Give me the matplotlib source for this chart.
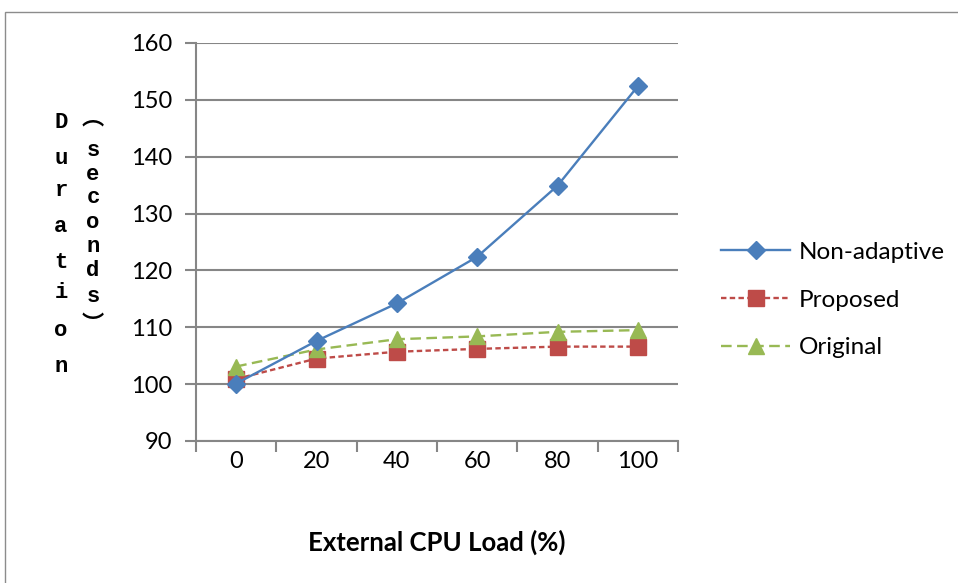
import matplotlib
matplotlib.use("Agg")
import matplotlib.pyplot as plt
from matplotlib.patches import Rectangle

categories = ["0", "20", "40", "60", "80", "100"]
non_adaptive = [100.1, 107.6, 114.2, 122.4, 134.9, 152.4]
proposed = [100.9, 104.5, 105.7, 106.2, 106.6, 106.6]
original = [103.1, 106.1, 107.9, 108.4, 109.2, 109.5]
y_ticks = [90, 100, 110, 120, 130, 140, 150, 160]

W, H = 958, 583
fig = plt.figure(figsize=(W / 100, H / 100), dpi=100)
fig.patch.set_facecolor("white")
font = "Lato"
grid_c = "#868686"

# outer chart border
fig.patches.append(Rectangle((5 / W, -0.1), 1.2, 1 - 12 / H + 0.1, transform=fig.transFigure,
                             fill=False, edgecolor="#8c8c8c", linewidth=1.0))

ax = fig.add_axes([196 / W, 142 / H, 482 / W, 398 / H])
x = list(range(len(categories)))
ax.plot(x, non_adaptive, color="#4A7EBB", lw=1.7, marker="D", ms=9.5,
        markeredgecolor="#4A7EBB", label="Non-adaptive", zorder=4)
ax.plot(x, proposed, color="#BE4B48", lw=1.7, ls=(0, (2.3, 1.4)), marker="s", ms=11,
        markeredgecolor="#BE4B48", label="Proposed", zorder=3)
ax.plot(x, original, color="#98B954", lw=1.7, ls=(0, (4.5, 2.3)), marker="^", ms=12,
        markeredgecolor="#98B954", label="Original", zorder=3)

ax.set_xlim(-0.5, len(categories) - 0.5)
ax.set_ylim(90, 160)
ax.set_yticks(y_ticks)
ax.set_yticklabels([str(v) for v in y_ticks], fontfamily=font, fontsize=17)
ax.set_xticks([i - 0.5 for i in range(len(categories) + 1)], minor=False)
ax.set_xticklabels([])
ax.set_xticks(x, minor=True)
ax.set_xticklabels(categories, minor=True, fontfamily=font, fontsize=17)
ax.tick_params(axis="x", which="minor", length=0, pad=7)
ax.tick_params(axis="x", which="major", length=8, width=1.5, color=grid_c, direction="out")
ax.tick_params(axis="y", length=8, width=1.5, color=grid_c, direction="out", pad=9)
ax.grid(axis="y", color=grid_c, lw=1.5)
ax.set_axisbelow(True)
for s in ["top", "right"]:
    ax.spines[s].set_visible(False)
for s in ["left", "bottom"]:
    ax.spines[s].set_color(grid_c)
    ax.spines[s].set_linewidth(1.5)

ax.set_xlabel("External CPU Load (%)", fontfamily=font, fontsize=18.5, fontweight="bold", labelpad=42)

# stacked (vertical-writing) y-axis label
col1 = "Duration"
col2 = "\ufe35seconds\ufe36"
y1 = [123, 159, 190, 227, 263, 293, 330, 367]
y2 = [118, 150, 175, 198, 222, 247, 271, 296, 325]
for ch, yy in zip(col1, y1):
    fig.text(61 / W, 1 - yy / H, ch, ha="center", va="center", fontfamily="Liberation Mono",
             fontweight="bold", fontsize=16)
for ch, yy in zip(col2, y2):
    fam = ["Noto Sans CJK SC", "DejaVu Sans"] if ch in "\ufe35\ufe36" else "Liberation Mono"
    fig.text(93 / W, 1 - yy / H, ch, ha="center", va="center", fontfamily=fam,
             fontweight="bold", fontsize=16)

fig.legend(loc="center left", bbox_to_anchor=(699 / W, 1 - 300 / H), frameon=False,
           prop={"family": font, "size": 17.5}, handlelength=2.85, labelspacing=1.1,
           handletextpad=0.35)

fig.savefig("out.png", dpi=100)
